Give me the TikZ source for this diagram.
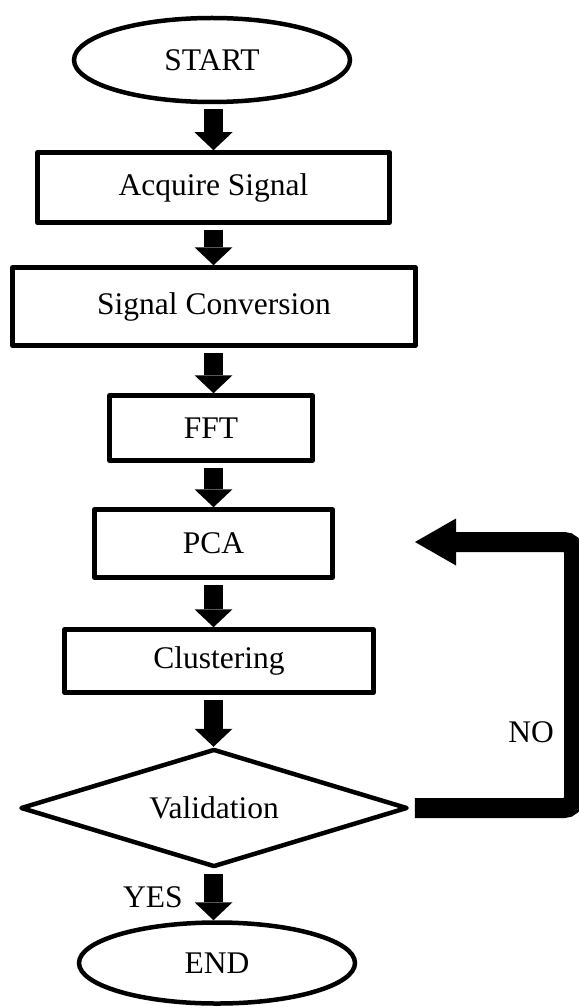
\documentclass[tikz,border=0pt]{standalone}
\usepackage{fontspec}
\setmainfont{Liberation Serif}
\usetikzlibrary{arrows.meta,shapes.geometric}

\begin{document}
\begin{tikzpicture}[x=1pt,y=-1pt,
  every node/.style={font=\fontsize{31.5}{36}\selectfont, inner sep=0pt},
  procbox/.style={draw, rectangle, line width=4.5pt, line join=round},
  termnode/.style={draw, ellipse, line width=4.5pt},
  decision/.style={draw, diamond, aspect=3.26, line width=4.5pt, line join=round},
  flowarrow/.style={line width=19pt, shorten <=5pt,
    -{Triangle[width=38pt,length=18pt,line width=0pt]}},
  backarrow/.style={line width=20pt, rounded corners=10pt,
    -{Triangle[width=47pt,length=41pt,line width=0pt]}},
  tag/.style={anchor=base}]

\useasboundingbox (0,0) rectangle (578,1008);

% process chain
\node[termnode, minimum width=276pt, minimum height=84pt] (start) at (212,60) {START};
\node[procbox, minimum width=352pt, minimum height=70pt] (acq) at (213.5,187.5) {Acquire Signal};
\node[procbox, minimum width=403pt, minimum height=78pt] (conv) at (214,306.5) {Signal Conversion};
\node[procbox, minimum width=203pt, minimum height=65pt] (fft) at (211,428) {FFT};
\node[procbox, minimum width=238pt, minimum height=68pt] (pca) at (213.5,543.5) {PCA};
\node[procbox, minimum width=309pt, minimum height=63pt] (clus) at (219,661) {Clustering};
\node[decision, minimum width=387pt, minimum height=118pt] (val) at (214,808) {Validation};
\node[termnode, minimum width=276pt, minimum height=81pt] (stop) at (217,963) {END};

% helper coordinates: arrow axis, right edge of the loop, tip of the loop arrow
\coordinate (ax) at (213.5,0);
\coordinate (rc) at (574,0);
\coordinate (tip) at (415,542);

% downward flow
\draw[flowarrow] (start.south -| ax) -- (acq.north -| ax);
\draw[flowarrow] (acq.south -| ax) -- (conv.north -| ax);
\draw[flowarrow] (conv.south -| ax) -- (fft.north -| ax);
\draw[flowarrow] (fft.south -| ax) -- (pca.north -| ax);
\draw[flowarrow] (pca.south -| ax) -- (clus.north -| ax);
\draw[flowarrow] (clus.south -| ax) -- (val.north -| ax);
\draw[flowarrow] (val.south -| ax) -- (stop.north -| ax);

% feedback loop
\draw[backarrow] ([xshift=5pt]val.east) -- (val.east -| rc) |- (tip);

% branch labels
\node[tag] (yes) at (153,907) {YES};
\node[tag] (no) at (531,742) {NO};
\end{tikzpicture}
\end{document}
